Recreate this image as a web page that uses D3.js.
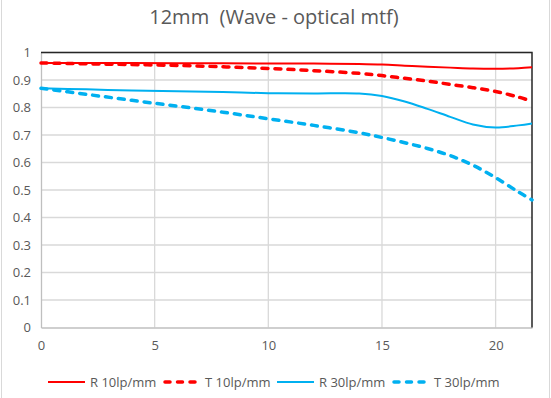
<!DOCTYPE html>
<html>
<head>
<meta charset="utf-8">
<script src="https://cdn.jsdelivr.net/npm/d3@7"></script>
<style>
  body { margin: 0; background: #fff; }
  svg text { font-family: "Open Sans", "Noto Sans", sans-serif; fill: #595959; }
</style>
</head>
<body>
<div id="container"></div>
<script>
// image height positions (mm)
var fieldPos = [0, 2, 4, 6, 8, 10, 12, 14, 15, 16, 17, 18, 19, 20, 21, 21.6];

// mtf values
var r10 = [0.962, 0.962, 0.962, 0.961, 0.961, 0.960, 0.960, 0.958, 0.956, 0.952, 0.948, 0.945, 0.942, 0.941, 0.943, 0.946];
var t10 = [0.962, 0.959, 0.956, 0.953, 0.948, 0.942, 0.934, 0.924, 0.916, 0.906, 0.896, 0.884, 0.872, 0.858, 0.838, 0.822];
var r30 = [0.870, 0.866, 0.862, 0.859, 0.856, 0.852, 0.851, 0.851, 0.842, 0.822, 0.795, 0.766, 0.738, 0.727, 0.735, 0.742];
var t30 = [0.870, 0.848, 0.826, 0.805, 0.783, 0.759, 0.735, 0.708, 0.691, 0.672, 0.651, 0.625, 0.590, 0.545, 0.493, 0.464];

var xTicks = [0, 5, 10, 15, 20];
var yTicks = [0, 0.1, 0.2, 0.3, 0.4, 0.5, 0.6, 0.7, 0.8, 0.9, 1];

var seriesNames = ["R 10lp/mm", "T 10lp/mm", "R 30lp/mm", "T 30lp/mm"];
var seriesValues = [r10, t10, r30, t30];

var width = 551, height = 398;
// plot area edges
var pLeft = 41, pRight = 532, pTop = 52.5, pBottom = 327.5;

var svg = d3.select("#container").append("svg")
    .attr("width", width)
    .attr("height", height);

// chart border
svg.append("rect")
    .attr("x", 1.5).attr("y", -1)
    .attr("width", 548).attr("height", height + 2)
    .style("fill", "none")
    .style("stroke", "#d9d9d9");

var x = d3.scaleLinear().domain([0, 21.6]).range([pLeft, pRight]);
var y = d3.scaleLinear().domain([0, 1]).range([pBottom, pTop]);

// title
svg.append("text")
    .attr("x", 274)
    .attr("y", 24)
    .attr("text-anchor", "middle")
    .style("font-size", "20px")
    .style("white-space", "pre")
    .text("12mm  (Wave - optical mtf)");

// grid
svg.append("g").selectAll("line")
    .data(yTicks.slice(1)).enter()
    .append("line")
    .attr("x1", pLeft).attr("x2", pRight)
    .attr("y1", d => y(d)).attr("y2", d => y(d))
    .style("stroke", "#d9d9d9").style("stroke-width", 1.3);

svg.append("g").selectAll("line")
    .data(xTicks.slice(1)).enter()
    .append("line")
    .attr("x1", d => x(d)).attr("x2", d => x(d))
    .attr("y1", pTop).attr("y2", pBottom)
    .style("stroke", "#d9d9d9").style("stroke-width", 1.3);

// axes
var yAxis = svg.append("g")
    .attr("transform", "translate(" + pLeft + ",0)")
    .call(d3.axisLeft(y).tickValues(yTicks).tickSize(0).tickPadding(10).tickFormat(d3.format("")));
yAxis.select(".domain").style("stroke", "#bfbfbf").style("stroke-width", 1.3);
yAxis.selectAll("text").style("font-size", "13px").style("fill", "#595959")
    .style("font-family", "'Open Sans', sans-serif");

var xAxis = svg.append("g")
    .attr("transform", "translate(0," + pBottom + ")")
    .call(d3.axisBottom(x).tickValues(xTicks).tickSize(0).tickPadding(13).tickFormat(d3.format("")));
xAxis.select(".domain").style("stroke", "#bfbfbf").style("stroke-width", 1.3);
xAxis.selectAll("text").style("font-size", "13px").style("fill", "#595959")
    .style("font-family", "'Open Sans', sans-serif");

// top and right border of plot
svg.append("path")
    .attr("d", "M" + pLeft + "," + pTop + "H" + pRight + "V" + pBottom)
    .style("fill", "none")
    .style("stroke", "#262626")
    .style("stroke-width", 1.5);

// series
var colors = ["#ff0000", "#ff0000", "#00b0f0", "#00b0f0"];
var dashed = [false, true, false, true];

var line = d3.line()
    .x((d, i) => x(fieldPos[i]))
    .y(d => y(d))
    .curve(d3.curveCatmullRom.alpha(0.5));

seriesValues.forEach(function (vals, k) {
    svg.append("path")
        .datum(vals)
        .attr("d", line)
        .style("fill", "none")
        .style("stroke", colors[k])
        .style("stroke-width", dashed[k] ? 3.5 : 2)
        .style("stroke-dasharray", dashed[k] ? "6,7" : null)
        .style("stroke-linecap", dashed[k] ? "round" : "butt");
});

// legend
var legendX = [48, 163, 277, 392];
var ly = 382;
var lg = svg.append("g");
seriesNames.forEach(function (name, k) {
    lg.append("line")
        .attr("x1", legendX[k] + (dashed[k] ? 2 : 0)).attr("x2", legendX[k] + 37 - (dashed[k] ? 2 : 0))
        .attr("y1", ly).attr("y2", ly)
        .style("stroke", colors[k])
        .style("stroke-width", dashed[k] ? 3.5 : 2)
        .style("stroke-dasharray", dashed[k] ? "5,7.5" : null)
        .style("stroke-linecap", dashed[k] ? "round" : "butt");
    lg.append("text")
        .attr("x", legendX[k] + 42)
        .attr("y", ly + 4.5)
        .style("font-size", "13px")
        .text(name);
});
</script>
</body>
</html>
